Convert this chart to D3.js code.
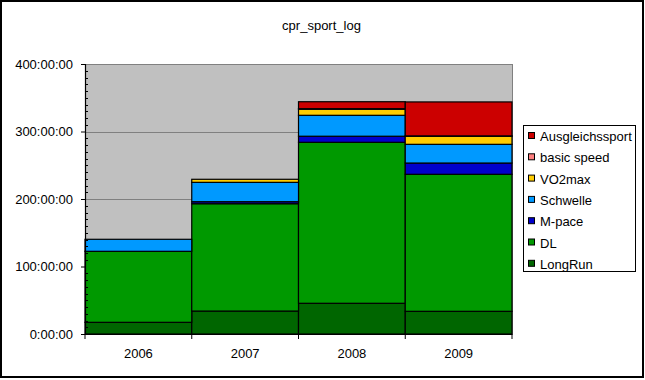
<!DOCTYPE html>
<html><head><meta charset="utf-8">
<script src="https://cdn.jsdelivr.net/npm/d3@7"></script>
<style>body{margin:0;background:#fff}svg{display:block;font-family:"Liberation Sans",Arial,sans-serif}</style>
</head><body><svg id="c" width="645" height="380"></svg>
<script>
const title = "cpr_sport_log";
const years = ["2006","2007","2008","2009"];
const seriesNames = ["LongRun","DL","M-pace","Schwelle","VO2max","basic speed","Ausgleichssport"];
const seriesColors = ["#006600","#009900","#0000CC","#0099FF","#FFCC00","#FF7F7F","#CC0000"];
// hours per year
const longRun = [17.3, 34, 45.5, 33.6];
const dl = [105.2, 159, 238.5, 203];
const mPace = [0, 3, 9, 16.7];
const schwelle = [17.8, 28.7, 31, 27.7];
const vo2max = [0, 4.5, 9, 12];
const basicSpeed = [0, 0, 0.8, 0.5];
const ausgleich = [0, 0, 10.3, 50.3];
const yTicks = [0, 100, 200, 300, 400];

const seriesVals = [longRun, dl, mPace, schwelle, vo2max, basicSpeed, ausgleich];
const rows = years.map((y, i) => {
  const r = {year: y};
  seriesNames.forEach((n, k) => r[n] = seriesVals[k][i]);
  return r;
});

const svg = d3.select("#c");
const L = 85, R = 512, T = 64, B = 334;
const FS = 13;

svg.append("rect").attr("x",1).attr("y",1).attr("width",642).attr("height",376)
  .attr("fill","#fff").attr("stroke","#000").attr("stroke-width",2);

svg.append("text").attr("x",321.5).attr("y",29.5).attr("text-anchor","middle")
  .attr("font-size",FS).text(title);

const x = d3.scaleBand().domain(years).range([L, R]).padding(0);
const y = d3.scaleLinear().domain([0, 400]).range([B, T]);

svg.append("rect").attr("x",L).attr("y",T).attr("width",R-L).attr("height",B-T)
  .attr("fill","#C0C0C0");

// gridlines
svg.append("g").selectAll("line").data(yTicks.slice(1)).join("line")
  .attr("x1",L).attr("x2",R).attr("y1",d=>Math.round(y(d))+0.5).attr("y2",d=>Math.round(y(d))+0.5)
  .attr("stroke","#808080").attr("stroke-width",1);
svg.append("line").attr("x1",R+0.5).attr("x2",R+0.5).attr("y1",T).attr("y2",B)
  .attr("stroke","#808080");

const stack = d3.stack().keys(seriesNames)(rows);
svg.append("g").selectAll("g").data(stack).join("g")
  .attr("fill",(d,i)=>seriesColors[i])
  .selectAll("rect").data(d=>d.filter(p=>p[1]-p[0]>0)).join("rect")
  .attr("x",d=>x(d.data.year)).attr("width",x.bandwidth())
  .attr("y",d=>y(d[1])).attr("height",d=>y(d[0])-y(d[1]))
  .attr("stroke","#000").attr("stroke-width",1.2);

// y axis
const yAxis = d3.axisLeft(y).tickValues(yTicks).tickSize(4).tickPadding(8)
  .tickFormat(d=>d+":00:00");
const gy = svg.append("g").attr("transform",`translate(${L},0)`).call(yAxis);
gy.select(".domain").attr("stroke","#000").attr("stroke-width",1.2);
gy.selectAll(".tick line").attr("stroke","#000");
gy.selectAll("text").attr("font-size",FS).attr("fill","#000")
  .attr("font-family","'Liberation Sans',Arial,sans-serif");
// minor ticks
svg.append("g").selectAll("line").data(d3.range(10,400,10).filter(v=>v%100)).join("line")
  .attr("x1",L).attr("x2",L+3).attr("y1",d=>Math.round(y(d))+0.5).attr("y2",d=>Math.round(y(d))+0.5)
  .attr("stroke","#000");

// x axis
const gx = svg.append("g").attr("transform",`translate(0,${B})`)
  .call(d3.axisBottom(x).tickSize(0).tickPadding(15));
gx.select(".domain").attr("stroke","#000").attr("stroke-width",1.2);
gx.selectAll("text").attr("font-size",FS).attr("fill","#000")
  .attr("font-family","'Liberation Sans',Arial,sans-serif");
svg.append("g").selectAll("line").data(years.map(v=>x(v)).concat([R])).join("line")
  .attr("x1",d=>d).attr("x2",d=>d).attr("y1",B).attr("y2",B+5).attr("stroke","#000");

// legend
const lg = svg.append("g");
lg.append("rect").attr("x",523.5).attr("y",125.5).attr("width",112).attr("height",146)
  .attr("fill","#fff").attr("stroke","#000");
const legendOrder = seriesNames.map((n,i)=>i).reverse();
legendOrder.forEach((k, j) => {
  const cy = 136 + j*21.3;
  lg.append("rect").attr("x",528.5).attr("y",cy-3.5).attr("width",6).attr("height",6)
    .attr("fill",seriesColors[k]).attr("stroke","#000");
  lg.append("text").attr("x",540).attr("y",cy+5).attr("font-size",FS).text(seriesNames[k]);
});
</script></body></html>
